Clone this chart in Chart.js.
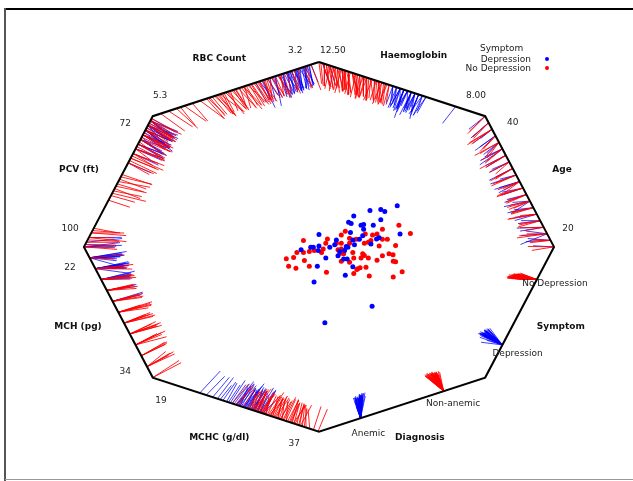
<!DOCTYPE html>
<html>
<head>
<meta charset="utf-8">
<script src="https://cdn.jsdelivr.net/npm/chart.js@4"></script>
<style>
  body { margin: 0; background: #fff; }
  canvas { display: block; }
</style>
</head>
<body>
<canvas id="polyviz" width="633" height="481"></canvas>
<script>
// attributes around the polygon, clockwise from the top vertex
const attrNames = ["Haemoglobin", "Age", "Symptom", "Diagnosis", "MCHC (g/dl)", "MCH (pg)", "PCV (ft)", "RBC Count"];
const attrMax = [12.5, 40, null, null, 37, 34, 100, 5.3];
const attrMin = [8.0, 20, null, null, 19, 22, 72, 3.2];
const symptomValues = ["No Depression", "Depression"];
const diagnosisValues = ["Non-anemic", "Anemic"];

// projected points (octagon radius = 1)
const depX = [0.333,0.217,0.263,0.280,0.148,0.263,0.126,0.137,0.179,0.190,0.231,0.190,0.134,0.000,0.345,0.186,0.074,0.144,0.172,0.245,0.256,-0.035,-0.024,0.000,0.046,0.067,0.116,0.123,0.151,0.221,-0.076,-0.003,0.088,0.109,0.081,0.105,0.120,0.029,-0.007,0.144,0.112,-0.021,0.226,0.025];
const depY = [0.223,0.197,0.202,0.191,0.167,0.147,0.133,0.126,0.117,0.121,0.117,0.096,0.078,0.067,0.069,0.060,0.037,0.037,0.041,0.043,0.050,-0.002,-0.002,0.005,-0.002,0.011,0.002,-0.002,0.011,0.016,-0.016,-0.020,-0.025,-0.020,-0.048,-0.066,-0.066,-0.060,-0.105,-0.108,-0.154,-0.190,-0.321,-0.411];
const noDepX = [0.340,0.270,0.389,-0.066,0.036,0.095,0.112,0.130,0.158,0.197,0.228,0.247,0.270,0.291,0.095,0.130,0.193,0.210,0.221,0.029,0.074,0.018,-0.094,-0.066,-0.041,0.011,-0.020,0.095,0.091,0.105,0.081,0.256,0.326,0.144,0.186,0.193,0.210,0.148,0.179,0.270,0.298,0.315,0.316,0.326,0.247,-0.139,-0.108,-0.062,-0.129,-0.098,-0.041,0.095,0.130,0.165,0.175,0.200,0.148,0.032,0.214,0.316,0.354,0.161];
const noDepY = [0.117,0.096,0.073,0.034,0.043,0.064,0.085,0.046,0.041,0.069,0.064,0.069,0.041,0.041,0.020,0.020,0.020,0.025,0.034,0.020,0.020,-0.012,-0.030,-0.030,-0.025,-0.030,-0.020,-0.012,-0.034,-0.037,-0.016,0.005,0.007,-0.030,-0.037,-0.046,-0.060,-0.060,-0.060,-0.048,-0.037,-0.043,-0.078,-0.081,-0.073,-0.064,-0.057,-0.074,-0.105,-0.115,-0.105,-0.078,-0.083,-0.119,-0.113,-0.110,-0.144,-0.137,-0.158,-0.163,-0.135,-0.122];

// attribute values per record, Depression
const depHb = [10.3,12.4,9.9,10.5,10.1,9.7,10.2,10.0,9.8,10.4,12.2,10.0,9.6,10.3,10.1,9.9,10.5,10.2,9.8,10.0,10.4,9.7,10.3,10.1,9.9,10.2,8.8,10.0,9.8,10.5,10.1,9.6,10.3,10.2,9.9,10.0,9.7,10.4,10.1,9.8,10.3,10.0,9.9,10.2];
const depAge = [38,22,31,27,35,24,29,40,21,33,26,37,30,23,36,28,34,25,39,32,20,30,27,35,22,38,29,33,24,36,31,26,39,21,34,28,23,37,32,25,30,35,27,22];
const depMchc = [29.1,24.1,30.5,28.0,27.4,30.8,28.6,26.0,29.6,31.0,28.2,29.8,25.5,30.1,28.8,27.8,30.3,29.3,24.8,30.6,28.4,29.5,27.0,30.0,26.6,29.0,27.6,30.2,28.1,29.7,28.5,30.7,28.9,29.2,29.4,28.3,29.9,27.2,30.4,28.7,29.0,26.3,30.9,28.0];
const depMch = [23,24,25,22,23,24,24,25,23,27,24,23,25,24,22,23,24,26,25,24,23,24,25,23,22,24,23,25,27,24,23,24,25,23,24,26,25,24,23,24,25,23,24,23];
const depPcv = [74,77,73,99,75,76,78,73.5,74,79,75,76,72.5,77,74,98,75,73,76,78,74.5,75,77,82,73,76,74,75.5,79,76,75,74,73,80,77,99.5,74,76,75,78,73,76.5,75,74];
const depRbc = [3.45,3.30,3.62,3.38,3.85,3.52,3.33,3.68,3.41,3.57,3.95,3.35,3.50,3.44,3.72,3.60,3.32,3.48,3.80,3.55,3.40,3.65,3.37,3.90,3.47,3.58,3.42,4.00,3.51,3.64,3.36,3.76,3.54,3.46,3.61,3.70,3.39,3.56,3.82,3.49,3.66,3.59,3.92,3.75];

// attribute values per record, No Depression
const ndHb = [11.6,12.4,10.9,11.2,12.0,10.7,11.8,12.3,11.1,10.6,11.5,12.2,11.0,11.9,12.5,10.8,11.3,11.7,12.1,10.95,11.45,12.35,11.05,11.65,10.65,12.05,11.25,11.85,12.45,10.85,11.35,11.55,12.15,11.15,10.75,11.95,12.25,11.4,10.7,11.75,12.0,11.1,12.4,10.9,11.6,12.2,11.3,10.8,11.9,12.1,11.5,10.6,11.7,12.3,11.2,11.0,12.0,11.4,11.8,10.95,11.6,12.2];
const ndAge = [25,33,21,38,29,36,23,31,40,27,34,22,30,37,26,39,24,32,28,35,20,31,36,25,29,38,22,33,27,34,30,21,37,26,39,24,32,28,35,23,30,36,27,33,21,38,25,29,34,22,31,40,26,35,28,37,24,32,20,30,36,27];
const ndMchc = [31.5,33.2,29.8,35.6,30.4,32.7,34.1,28.3,31.0,33.8,30.0,36.4,32.2,29.6,34.6,31.8,30.8,33.4,27.6,32.5,34.9,31.2,29.9,33.0,30.6,35.2,32.0,28.8,34.3,31.4,30.2,33.6,36.9,32.9,29.4,34.0,31.7,30.9,33.1,28.0,32.3,35.0,31.1,30.5,34.4,29.7,33.5,32.6,31.3,36.0,30.1,34.8,32.1,29.2,33.9,31.9,30.7,35.4,32.8,31.6,34.2,30.3];
const ndMch = [28,31,24,33,26,29,30,25,32,27,34,23,28,30,26,31,29,33,25,27,32,24,29,28,30,26,31,27,33,22,29,25,28,32,30,26,27,31,24,29,34,28,25,30,33,27,26,29,31,23,28,32,30,27,25,29,26,33,28,31,24,30];
const ndPcv = [75,86,73,98,78,80,74,88,76,97,72.5,79,85,77,81,99,73.5,76,87,74.5,78,96.5,80,75.5,89,73,77,99.5,82,74,86.5,79,76,98.5,72.8,81,84.5,75,78,97,73.8,80,88.5,76.5,74,90,77.5,82,96,79,75,85.5,73,81.5,100,78.5,74.8,87.5,76,80.5,98,77];
const ndRbc = [4.10,3.80,4.45,3.50,4.25,3.95,4.60,3.70,4.05,4.90,3.85,4.35,3.40,4.15,4.50,3.75,4.00,5.10,4.30,3.90,4.55,3.60,4.20,3.68,4.40,4.80,3.88,4.12,3.35,4.28,4.58,3.98,4.70,3.78,4.18,4.48,3.55,4.08,5.20,4.38,3.92,4.22,3.72,4.52,4.02,3.45,4.32,4.95,3.82,4.14,4.42,3.65,4.26,4.62,3.96,4.06,5.00,3.86,4.36,3.30,4.16,4.46];

// polygon geometry
const vertexAngles = [90, 45, 0, -45, -90, -135, 180, 135];
const verts = vertexAngles.map(a => ({ x: Math.cos(a * Math.PI / 180), y: Math.sin(a * Math.PI / 180) }));
const HAIR = 0.12;

function edgePos(k, t) {
    const a = verts[k], b = verts[(k + 1) % verts.length];
    return { x: a.x + t * (b.x - a.x), y: a.y + t * (b.y - a.y) };
}

function edgeT(k, v) {
    if (k === 2) return (symptomValues.indexOf(v) + 0.5) / symptomValues.length;
    if (k === 3) return (diagnosisValues.indexOf(v) + 0.5) / diagnosisValues.length;
    return (attrMax[k] - v) / (attrMax[k] - attrMin[k]);
}

function hairData(xs, ys, cols, symptom, diagnosis) {
    const out = [];
    xs.forEach((px, i) => {
        const py = ys[i];
        cols.forEach((col, k) => {
            const v = k === 2 ? symptom : k === 3 ? diagnosis : col[i];
            const s = edgePos(k, edgeT(k, v));
            out.push({ x: s.x, y: s.y });
            out.push({ x: s.x + HAIR * (px - s.x), y: s.y + HAIR * (py - s.y) });
            out.push({ x: null, y: null });
        });
    });
    return out;
}

const depHairs = hairData(depX, depY, [depHb, depAge, null, null, depMchc, depMch, depPcv, depRbc], "Depression", "Anemic");
const ndHairs = hairData(noDepX, noDepY, [ndHb, ndAge, null, null, ndMchc, ndMch, ndPcv, ndRbc], "No Depression", "Non-anemic");

// text placement (in projection coordinates)
const textLabels = [
    { t: "3.2", x: -0.101, y: 1.059 }, { t: "12.50", x: 0.059, y: 1.059 },
    { t: "Haemoglobin", x: 0.403, y: 1.032, b: true },
    { t: "8.00", x: 0.668, y: 0.819 }, { t: "40", x: 0.824, y: 0.670 },
    { t: "Age", x: 1.034, y: 0.420, b: true }, { t: "20", x: 1.059, y: 0.101 },
    { t: "No Depression", x: 1.004, y: -0.197 },
    { t: "Symptom", x: 1.029, y: -0.431, b: true },
    { t: "Depression", x: 0.845, y: -0.580 },
    { t: "Non-anemic", x: 0.571, y: -0.846 }, { t: "Anemic", x: 0.210, y: -1.011 },
    { t: "Diagnosis", x: 0.429, y: -1.032, b: true },
    { t: "37", x: -0.105, y: -1.064 }, { t: "19", x: -0.672, y: -0.830 },
    { t: "MCHC (g/dl)", x: -0.424, y: -1.032, b: true },
    { t: "34", x: -0.824, y: -0.676 },
    { t: "MCH (pg)", x: -1.025, y: -0.431, b: true },
    { t: "22", x: -1.059, y: -0.112 }, { t: "100", x: -1.059, y: 0.101 },
    { t: "PCV (ft)", x: -1.021, y: 0.420, b: true },
    { t: "72", x: -0.824, y: 0.665 }, { t: "5.3", x: -0.676, y: 0.819 },
    { t: "RBC Count", x: -0.424, y: 1.021, b: true },
];

const decor = {
    id: "decor",
    beforeDraw(chart) {
        const ctx = chart.ctx;
        ctx.save();
        ctx.fillStyle = "#fff";
        ctx.fillRect(0, 0, chart.width, chart.height);
        ctx.strokeStyle = "#000";
        ctx.lineWidth = 2;
        ctx.beginPath();
        ctx.moveTo(4, 9); ctx.lineTo(chart.width, 9);
        ctx.stroke();
        ctx.strokeStyle = "#555";
        ctx.beginPath();
        ctx.moveTo(5, 8); ctx.lineTo(5, chart.height);
        ctx.stroke();
        ctx.strokeStyle = "#999";
        ctx.lineWidth = 1;
        ctx.beginPath();
        ctx.moveTo(5, 479.5); ctx.lineTo(chart.width, 479.5);
        ctx.stroke();
        ctx.restore();
    },
    afterDatasetsDraw(chart) {
        const { ctx, scales: { x, y } } = chart;
        ctx.save();
        ctx.textAlign = "center";
        ctx.textBaseline = "middle";
        textLabels.forEach(l => {
            ctx.font = (l.b ? "bold " : "") + "9px 'DejaVu Sans'";
            ctx.fillStyle = l.b ? "#111" : "#222";
            ctx.fillText(l.t, x.getPixelForValue(l.x), y.getPixelForValue(l.y));
        });
        // legend
        ctx.font = "9px 'DejaVu Sans'";
        ctx.fillStyle = "#222";
        ctx.textAlign = "left";
        ctx.fillText("Symptom", 480, 49);
        ctx.textAlign = "right";
        ctx.fillText("Depression", 531, 60);
        ctx.fillText("No Depression", 531, 69);
        [["#0000ff", 59], ["#ff0000", 68]].forEach(([c, yy]) => {
            ctx.fillStyle = c;
            ctx.beginPath();
            ctx.arc(547, yy, 2, 0, Math.PI * 2);
            ctx.fill();
        });
        ctx.restore();
    }
};

new Chart(document.getElementById("polyviz").getContext("2d"), {
    type: "scatter",
    data: {
        datasets: [
            {
                label: "Depression",
                data: depX.map((v, i) => ({ x: v, y: depY[i] })),
                backgroundColor: "#0000ff", borderWidth: 0, pointRadius: 2.5, order: 0,
            },
            {
                label: "No Depression",
                data: noDepX.map((v, i) => ({ x: v, y: noDepY[i] })),
                backgroundColor: "#ff0000", borderWidth: 0, pointRadius: 2.5, order: 0,
            },
            {
                label: "polygon",
                data: verts.concat([verts[0]]),
                showLine: true, borderColor: "#000", borderWidth: 2, pointRadius: 0, order: 1,
            },
            {
                label: "hairs nd",
                data: ndHairs,
                showLine: true, spanGaps: false, borderColor: "rgba(255,0,0,0.85)", borderWidth: 1, pointRadius: 0, order: 2,
            },
            {
                label: "hairs dep",
                data: depHairs,
                showLine: true, spanGaps: false, borderColor: "rgba(0,0,255,0.75)", borderWidth: 1, pointRadius: 0, order: 3,
            },
        ],
    },
    options: {
        responsive: false,
        animation: false,
        layout: { padding: 0 },
        scales: {
            x: { type: "linear", min: -1.34, max: 1.319, display: false },
            y: { type: "linear", min: -1.245, max: 1.314, display: false },
        },
        plugins: {
            legend: { display: false },
            tooltip: { enabled: false },
        },
    },
    plugins: [decor],
});
</script>
</body>
</html>
